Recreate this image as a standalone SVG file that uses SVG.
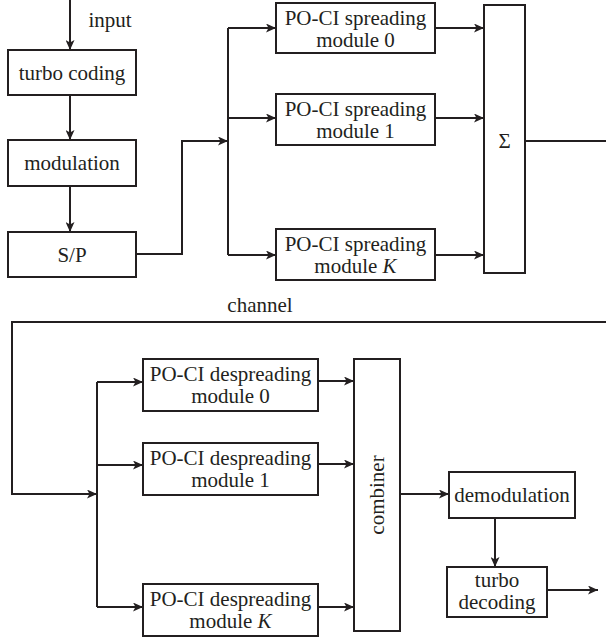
<svg xmlns="http://www.w3.org/2000/svg" width="606" height="644" viewBox="0 0 606 644">
<style>
.box{fill:#fff;stroke:#231f20;stroke-width:2}
.ln{fill:none;stroke:#231f20;stroke-width:2}
.t{font-family:'Liberation Serif','Times New Roman','DejaVu Serif',serif;font-size:21px;fill:#231f20;text-anchor:middle}
</style>
<defs>
<marker id="ah" markerUnits="userSpaceOnUse" markerWidth="11" markerHeight="9" refX="10" refY="4.5" orient="auto">
<path d="M0,0 L10,4.5 L0,9 L2.5,4.5 z" fill="#231f20"/>
</marker>
</defs>
<g id="connectors">
<path class="ln" d="M70,0 V50" marker-end="url(#ah)"/>
<path class="ln" d="M70,95 V140" marker-end="url(#ah)"/>
<path class="ln" d="M70,186 V232" marker-end="url(#ah)"/>
<path class="ln" d="M136,254 H182 V141 H228" marker-end="url(#ah)"/>
<path class="ln" d="M228,28 V255"/>
<path class="ln" d="M228,28 H276" marker-end="url(#ah)"/>
<path class="ln" d="M228,118 H276" marker-end="url(#ah)"/>
<path class="ln" d="M228,255 H276" marker-end="url(#ah)"/>
<path class="ln" d="M435,28 H484" marker-end="url(#ah)"/>
<path class="ln" d="M435,118 H484" marker-end="url(#ah)"/>
<path class="ln" d="M435,255 H484" marker-end="url(#ah)"/>
<path class="ln" d="M525,141 H606"/>
<path class="ln" d="M606,322 H12 V494 H97" marker-end="url(#ah)"/>
<path class="ln" d="M97,382 V607"/>
<path class="ln" d="M97,382 H143" marker-end="url(#ah)"/>
<path class="ln" d="M97,465 H143" marker-end="url(#ah)"/>
<path class="ln" d="M97,607 H143" marker-end="url(#ah)"/>
<path class="ln" d="M318,381 H354" marker-end="url(#ah)"/>
<path class="ln" d="M318,464 H354" marker-end="url(#ah)"/>
<path class="ln" d="M318,607 H354" marker-end="url(#ah)"/>
<path class="ln" d="M400,494 H449" marker-end="url(#ah)"/>
<path class="ln" d="M495,518 V567" marker-end="url(#ah)"/>
<path class="ln" d="M547,590 H598" marker-end="url(#ah)"/>
</g>
<text class="t" x="110" y="27">input</text>
<text class="t" x="260" y="312">channel</text>
<g id="turbo-coding"><rect class="box" x="8" y="50" width="128" height="45"/><text class="t" x="72" y="80">turbo coding</text></g>
<g id="modulation"><rect class="box" x="8" y="140" width="128" height="46"/><text class="t" x="72" y="170">modulation</text></g>
<g id="sp"><rect class="box" x="8" y="232" width="128" height="45"/><text class="t" x="72" y="262">S/P</text></g>
<g id="spread0"><rect class="box" x="276" y="3" width="159" height="50"/><text class="t" x="355.5" y="25">PO-CI spreading</text><text class="t" x="355.5" y="47">module 0</text></g>
<g id="spread1"><rect class="box" x="276" y="94" width="159" height="51"/><text class="t" x="355.5" y="116">PO-CI spreading</text><text class="t" x="355.5" y="138">module 1</text></g>
<g id="spreadK"><rect class="box" x="276" y="229" width="159" height="51"/><text class="t" x="355.5" y="251">PO-CI spreading</text><text class="t" x="355.5" y="273">module <tspan font-style="italic">K</tspan></text></g>
<g id="sum"><rect class="box" x="484" y="5" width="41" height="268"/><text class="t" x="504.5" y="148">Σ</text></g>
<g id="despread0"><rect class="box" x="143" y="359" width="175" height="52"/><text class="t" x="230.5" y="381">PO-CI despreading</text><text class="t" x="230.5" y="403">module 0</text></g>
<g id="despread1"><rect class="box" x="143" y="443" width="175" height="52"/><text class="t" x="230.5" y="465">PO-CI despreading</text><text class="t" x="230.5" y="487">module 1</text></g>
<g id="despreadK"><rect class="box" x="143" y="584" width="175" height="52"/><text class="t" x="230.5" y="606">PO-CI despreading</text><text class="t" x="230.5" y="628">module <tspan font-style="italic">K</tspan></text></g>
<g id="combiner"><rect class="box" x="354" y="359" width="46" height="272"/><text class="t" transform="translate(384,495) rotate(-90)">combiner</text></g>
<g id="demodulation"><rect class="box" x="449" y="472" width="126" height="46"/><text class="t" x="512" y="502">demodulation</text></g>
<g id="turbo-decoding"><rect class="box" x="447" y="567" width="100" height="50"/><text class="t" x="497" y="587">turbo</text><text class="t" x="497" y="609">decoding</text></g>
</svg>
